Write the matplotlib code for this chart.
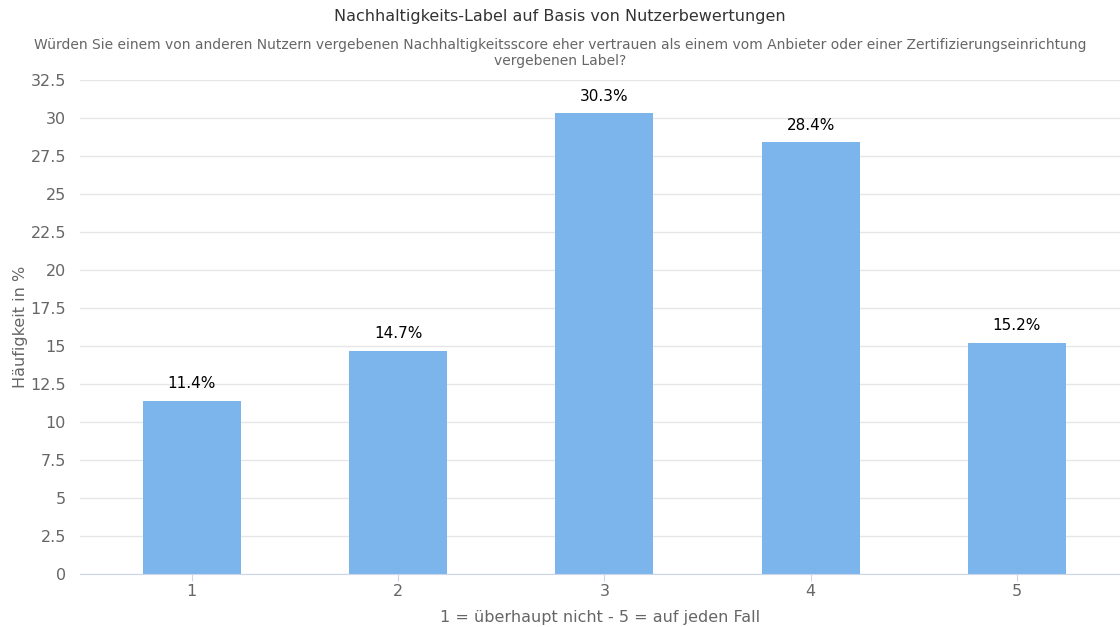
import matplotlib
matplotlib.use("Agg")
import matplotlib.pyplot as plt

categories = ["1", "2", "3", "4", "5"]
values = [11.4, 14.7, 30.3, 28.4, 15.2]
yticks = [0, 2.5, 5, 7.5, 10, 12.5, 15, 17.5, 20, 22.5, 25, 27.5, 30, 32.5]

title = "Nachhaltigkeits-Label auf Basis von Nutzerbewertungen"
subtitle = ("Würden Sie einem von anderen Nutzern vergebenen Nachhaltigkeitsscore eher vertrauen als einem vom Anbieter oder einer Zertifizierungseinrichtung\n"
            "vergebenen Label?")
xlabel = "1 = überhaupt nicht - 5 = auf jeden Fall"
ylabel = "Häufigkeit in %"

plt.rcParams['font.family'] = ['DejaVu Sans']

fig = plt.figure(figsize=(11.2, 6.27), dpi=100)
ax = fig.add_axes([80/1120, 53/627, 1 - 80/1120, 494/627])

pos = list(range(1, len(categories) + 1))
bars = ax.bar(pos, values, width=0.475, color='#7cb5ec', zorder=2)

for x, v in zip(pos, values):
    ax.annotate(f"{v}%", (x, v), xytext=(0, 7), textcoords='offset points',
                ha='center', va='bottom', fontsize=11, color='#000000')

ax.set_xlim(0.458, 5.5)
ax.set_ylim(0, 32.5)
ax.set_yticks(yticks)
ax.set_yticklabels([f"{t:g}" for t in yticks])
ax.set_xticks(pos)
ax.set_xticklabels(categories)

ax.grid(axis='y', color='#e6e6e6', linewidth=1, zorder=0)
for s in ['top', 'right', 'left']:
    ax.spines[s].set_visible(False)
ax.spines['bottom'].set_color('#ccd6eb')
ax.tick_params(axis='y', length=0, pad=10, labelsize=11.5, labelcolor='#666666')
ax.tick_params(axis='x', length=5, color='#ccd6eb', pad=2, labelsize=11.5, labelcolor='#666666')

ax.set_xlabel(xlabel, fontsize=11.5, color='#666666', labelpad=8)
ax.set_ylabel(ylabel, fontsize=11.5, color='#666666', labelpad=2)

fig.text(0.5, 1 - 17/627, title, ha='center', va='center', fontsize=11.5, color='#333333')
fig.text(0.5, 1 - 53/627, subtitle, ha='center', va='center', fontsize=10,
         color='#666666', linespacing=1.2)

fig.savefig("out.png", dpi=100)
